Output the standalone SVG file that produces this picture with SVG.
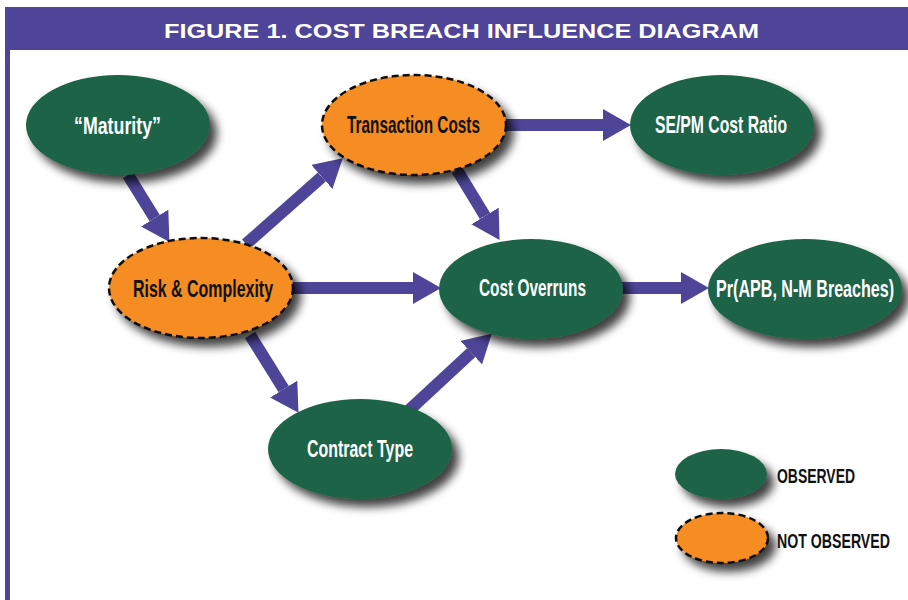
<svg xmlns="http://www.w3.org/2000/svg" width="908" height="600" viewBox="0 0 908 600">
<defs>
<filter id="sh" x="-30%" y="-30%" width="170%" height="180%">
<feGaussianBlur in="SourceAlpha" stdDeviation="5"/>
<feOffset dx="7" dy="8" result="b"/>
<feComponentTransfer><feFuncA type="linear" slope="0.75"/></feComponentTransfer>
<feMerge><feMergeNode/><feMergeNode in="SourceGraphic"/></feMerge>
</filter>
<marker id="ah" markerUnits="userSpaceOnUse" markerWidth="28" markerHeight="32" refX="0" refY="16" orient="auto" viewBox="0 0 28 32">
<path d="M0,0 L28,16 L0,32 z" fill="#4e4598"/>
</marker>
<style>
.obs{fill:#1c6346;filter:url(#sh)}
.nobs{fill:#f58d22;stroke:#111;stroke-width:2.5;stroke-dasharray:7 4;filter:url(#sh)}
.lw{font-family:"Liberation Sans Narrow","Liberation Sans",Arial,sans-serif;font-weight:bold;font-size:24px;fill:#fff}
.lb{font-family:"Liberation Sans Narrow","Liberation Sans",Arial,sans-serif;font-weight:bold;font-size:24px;fill:#111}
.lg{font-family:"Liberation Sans Narrow","Liberation Sans",Arial,sans-serif;font-weight:bold;font-size:21px;fill:#111}
.cn{stroke:#4e4598;stroke-width:12;fill:none;marker-end:url(#ah)}
</style>
</defs>
<rect width="908" height="600" fill="#fff"/>
<g id="frame">
<rect x="5" y="7" width="903" height="43" fill="#4f4598"/>
<rect x="5" y="50" width="5" height="550" fill="#4f4598"/>
<text x="164" y="38" font-family="'Liberation Sans',Arial,sans-serif" font-weight="bold" font-size="21" fill="#fff" textLength="595" lengthAdjust="spacingAndGlyphs">FIGURE 1. COST BREACH INFLUENCE DIAGRAM</text>
</g>
<g id="connectors">
<line class="cn" x1="128" y1="175" x2="154.7" y2="218.1"/>
<line class="cn" x1="246" y1="244" x2="321.8" y2="176.9"/>
<line class="cn" x1="500" y1="125" x2="603" y2="125"/>
<line class="cn" x1="457" y1="170" x2="485" y2="216"/>
<line class="cn" x1="290" y1="288" x2="413" y2="288"/>
<line class="cn" x1="618" y1="288" x2="681" y2="288"/>
<line class="cn" x1="250" y1="335" x2="283.7" y2="389.1"/>
<line class="cn" x1="405" y1="414" x2="471.2" y2="352.7"/>
</g>
<g id="maturity">
<ellipse class="obs" cx="118" cy="125" rx="92" ry="50"/>
<text class="lw" x="74" y="134" textLength="87" lengthAdjust="spacingAndGlyphs">“Maturity”</text>
</g>
<g id="transaction-costs">
<ellipse class="nobs" cx="414" cy="125" rx="92" ry="50"/>
<text class="lb" x="347" y="133" textLength="133" lengthAdjust="spacingAndGlyphs">Transaction Costs</text>
</g>
<g id="se-pm-cost-ratio">
<ellipse class="obs" cx="722" cy="125" rx="92" ry="50"/>
<text class="lw" x="655" y="133" textLength="132" lengthAdjust="spacingAndGlyphs">SE/PM Cost Ratio</text>
</g>
<g id="risk-complexity">
<ellipse class="nobs" cx="201" cy="288" rx="92" ry="50"/>
<text class="lb" x="133" y="297" textLength="140" lengthAdjust="spacingAndGlyphs">Risk &amp; Complexity</text>
</g>
<g id="cost-overruns">
<ellipse class="obs" cx="531" cy="289" rx="92" ry="50"/>
<text class="lw" x="479" y="296" textLength="107" lengthAdjust="spacingAndGlyphs">Cost Overruns</text>
</g>
<g id="pr-breaches">
<ellipse class="obs" cx="805" cy="289" rx="97" ry="50"/>
<text class="lw" transform="translate(716 297) scale(0.68 1)" x="0" y="0" textLength="262" lengthAdjust="spacingAndGlyphs">Pr(APB, N-M Breaches)</text>
</g>
<g id="contract-type">
<ellipse class="obs" cx="360" cy="449" rx="92" ry="50"/>
<text class="lw" x="307" y="457" textLength="106" lengthAdjust="spacingAndGlyphs">Contract Type</text>
</g>
<g id="legend">
<ellipse class="obs" cx="721" cy="474" rx="46" ry="25"/>
<text class="lg" x="777" y="483" textLength="78" lengthAdjust="spacingAndGlyphs">OBSERVED</text>
<ellipse class="nobs" cx="722" cy="538" rx="46" ry="25"/>
<text class="lg" transform="translate(777 548) scale(0.67 1)" x="0" y="0" textLength="168.6" lengthAdjust="spacingAndGlyphs">NOT OBSERVED</text>
</g>
</svg>
